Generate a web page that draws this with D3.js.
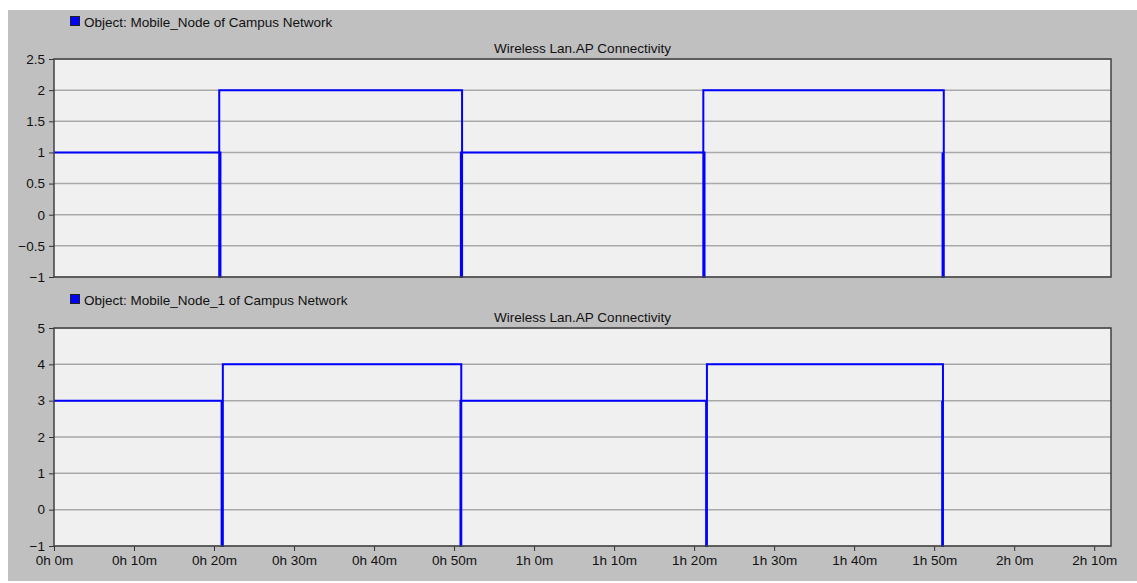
<!DOCTYPE html>
<html>
<head>
<meta charset="utf-8">
<script src="https://cdn.jsdelivr.net/npm/d3@7"></script>
<style>
  body { margin: 0; background: #fff; }
  svg { display: block; font-family: "Liberation Sans", Arial, sans-serif; }
</style>
</head>
<body>
<div id="chart"></div>
<script>
// time axis in minutes
const timeTicks = [0, 10, 20, 30, 40, 50, 60, 70, 80, 90, 100, 110, 120, 130];
const timeMax = 132.1;

// AP connectivity of Mobile_Node, [minute, value]
const node0Points = [
    [0, 1], [20.8, 1], [20.8, -1], [20.65, -1], [20.65, 2],
    [51.0, 2], [51.0, -1], [50.85, -1], [50.85, 1],
    [81.3, 1], [81.3, -1], [81.15, -1], [81.15, 2],
    [111.2, 2], [111.2, -1], [111.05, -1], [111.05, 1]
];
const node0Ticks = [2.5, 2, 1.5, 1, 0.5, 0, -0.5, -1];

// AP connectivity of Mobile_Node_1, [minute, value]
const node1Points = [
    [0, 3], [20.95, 3], [20.95, -1], [21.1, -1], [21.1, 4],
    [50.9, 4], [50.9, -1], [50.8, -1], [50.8, 3],
    [81.5, 3], [81.5, -1], [81.6, -1], [81.6, 4],
    [111.1, 4], [111.1, -1], [111.0, -1], [111.0, 3]
];
const node1Ticks = [5, 4, 3, 2, 1, 0, -1];

const panels = [
    { legend: "Object: Mobile_Node of Campus Network", title: "Wireless Lan.AP Connectivity",
      points: node0Points, ticks: node0Ticks, legendY: 27, top: 59, bottom: 277, showX: false },
    { legend: "Object: Mobile_Node_1 of Campus Network", title: "Wireless Lan.AP Connectivity",
      points: node1Points, ticks: node1Ticks, legendY: 305, top: 328, bottom: 546, showX: true }
];

const width = 1137, height = 583;
const plotLeft = 54, plotRight = 1111;
const fontSize = 13.5;

const svg = d3.select("#chart").append("svg")
    .attr("width", width)
    .attr("height", height);

// gray frame
svg.append("rect")
    .attr("x", 8).attr("y", 10)
    .attr("width", width - 8).attr("height", 571)
    .attr("fill", "#c0c0c0");

const x = d3.scaleLinear().domain([0, timeMax]).range([plotLeft, plotRight]);

const fmtTime = m => `${Math.floor(m / 60)}h ${m % 60}m`;

panels.forEach(p => {
    const y = d3.scaleLinear()
        .domain(d3.extent(p.ticks))
        .range([p.bottom, p.top]);

    const g = svg.append("g");

    // legend
    g.append("rect")
        .attr("x", 70.5).attr("y", p.legendY - 10.5)
        .attr("width", 9).attr("height", 9)
        .attr("fill", "#0000ff")
        .attr("stroke", "#202020");
    g.append("text")
        .attr("x", 84).attr("y", p.legendY)
        .attr("font-size", fontSize)
        .attr("fill", "#111")
        .text(p.legend);

    // title
    g.append("text")
        .attr("x", (plotLeft + plotRight) / 2).attr("y", p.top - 6)
        .attr("text-anchor", "middle")
        .attr("font-size", fontSize)
        .attr("fill", "#111")
        .text(p.title);

    // plot background
    g.append("rect")
        .attr("x", plotLeft).attr("y", p.top)
        .attr("width", plotRight - plotLeft).attr("height", p.bottom - p.top)
        .attr("fill", "#f0f0f0");

    // grid lines
    g.selectAll(".grid")
        .data(p.ticks)
        .join("line")
        .attr("class", "grid")
        .attr("x1", plotLeft).attr("x2", plotRight)
        .attr("y1", d => y(d)).attr("y2", d => y(d))
        .attr("stroke", "#a8a8a8")
        .attr("stroke-width", 1.5);

    // y axis
    const yAxis = g.append("g")
        .attr("transform", `translate(${plotLeft},0)`)
        .call(d3.axisLeft(y).tickValues(p.ticks).tickSize(5).tickPadding(4).tickFormat(d3.format("")));
    yAxis.select(".domain").remove();
    yAxis.selectAll("line").attr("stroke", "#333");
    yAxis.selectAll("text")
        .attr("font-size", fontSize)
        .attr("fill", "#111")
        .attr("font-family", "Liberation Sans, Arial, sans-serif");

    // x axis ticks (bottom panel only)
    if (p.showX) {
        const xAxis = g.append("g")
            .attr("transform", `translate(0,${p.bottom})`)
            .call(d3.axisBottom(x).tickValues(timeTicks).tickSize(5).tickPadding(4).tickFormat(fmtTime));
        xAxis.select(".domain").remove();
        xAxis.selectAll("line").attr("stroke", "#333");
        xAxis.selectAll("text")
            .attr("font-size", fontSize)
            .attr("fill", "#111")
            .attr("font-family", "Liberation Sans, Arial, sans-serif");
    }

    // series
    const line = d3.line()
        .x(d => x(d[0]))
        .y(d => y(d[1]));
    g.append("path")
        .datum(p.points)
        .attr("d", line)
        .attr("fill", "none")
        .attr("stroke", "#0000ff")
        .attr("stroke-width", 2);

    // plot border
    g.append("rect")
        .attr("x", plotLeft).attr("y", p.top)
        .attr("width", plotRight - plotLeft).attr("height", p.bottom - p.top)
        .attr("fill", "none")
        .attr("stroke", "#404040")
        .attr("stroke-width", 1.5);
});
</script>
</body>
</html>
